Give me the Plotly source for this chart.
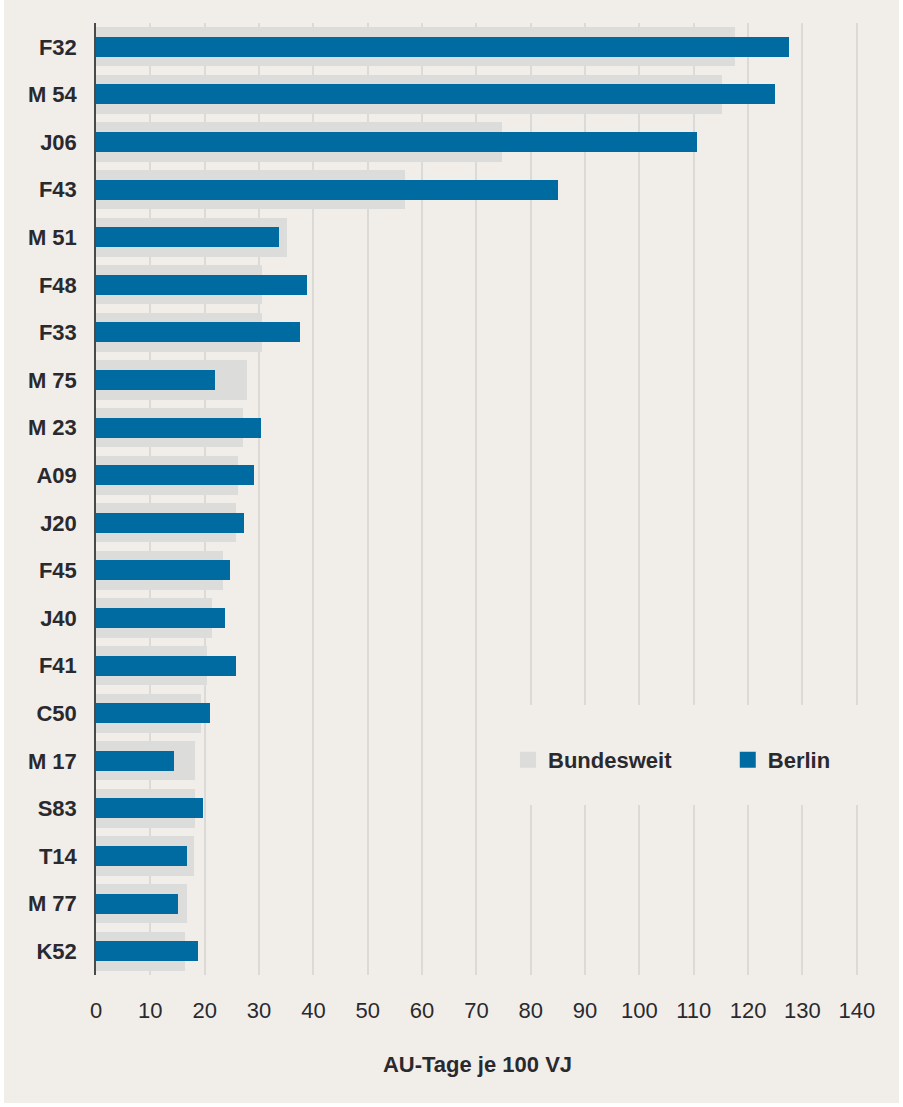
import plotly.graph_objects as go

# ICD-10 diagnoses, ordered by nationwide value (top to bottom)
diagnosen = ["F32", "M54", "J06", "F43", "M51", "F48", "F33", "M75", "M23", "A09",
             "J20", "F45", "J40", "F41", "C50", "M17", "S83", "T14", "M77", "K52"]
diagnosen_label = ["F32", "M 54", "J06", "F43", "M 51", "F48", "F33", "M 75", "M 23", "A09",
                   "J20", "F45", "J40", "F41", "C50", "M 17", "S83", "T14", "M 77", "K52"]

# AU-Tage je 100 Versicherungsjahre
bundesweit = [117.6, 115.2, 74.7, 56.9, 35.2, 30.6, 30.6, 27.7, 27.0, 26.2,
              25.7, 23.3, 21.3, 20.4, 19.3, 18.3, 18.3, 18.0, 16.7, 16.3]
berlin = [127.5, 125.0, 110.6, 85.0, 33.6, 38.9, 37.6, 21.9, 30.3, 29.0,
          27.3, 24.6, 23.7, 25.7, 20.9, 14.3, 19.6, 16.7, 15.0, 18.7]

x_ticks = list(range(0, 141, 10))

BG = "#f1eeea"
GREY = "#dcdcda"
BLUE = "#006ba1"
TEXT = "#2a292e"
FONT = "Liberation Sans, Arial, sans-serif"

fig = go.Figure()
fig.add_trace(go.Bar(
    y=diagnosen, x=bundesweit, orientation="h", name="Bundesweit",
    marker=dict(color=GREY, line=dict(width=0)), width=0.82, showlegend=False,
))
fig.add_trace(go.Bar(
    y=diagnosen, x=berlin, orientation="h", name="Berlin",
    marker=dict(color=BLUE, line=dict(width=0)), width=0.42, showlegend=False,
))
# legend entries with larger square swatches, one legend box each
for name, color, leg in [("Bundesweit", GREY, "legend"), ("Berlin", BLUE, "legend2")]:
    fig.add_trace(go.Scatter(
        x=[None], y=[None], mode="markers", name=name, legend=leg,
        marker=dict(symbol="square", size=16, color=color, line=dict(width=0)),
        hoverinfo="skip",
    ))

legend_style = dict(
    orientation="h",
    y=0.226, yanchor="middle",
    bgcolor="rgba(0,0,0,0)",
    font=dict(size=22, family=FONT, color=TEXT, weight="bold"),
    itemwidth=30,
)

fig.update_layout(
    width=903, height=1107,
    margin=dict(l=96, r=44, t=23, b=132),
    paper_bgcolor="white",
    plot_bgcolor="rgba(0,0,0,0)",
    barmode="overlay",
    bargap=0,
    font=dict(family=FONT, color=TEXT),
    showlegend=True,
    legend=dict(x=0.54, xanchor="left", **legend_style),
    legend2=dict(x=0.828, xanchor="left", **legend_style),
    shapes=[
        # beige panel inside the white frame
        dict(type="rect", xref="paper", yref="paper",
             x0=-0.1206, x1=1.0524, y0=-0.1345, y1=1.0252,
             fillcolor=BG, line=dict(width=0), layer="below"),
        # clear band behind the legend
        dict(type="rect", xref="x", yref="paper",
             x0=76, x1=141, y0=0.1786, y1=0.2836,
             fillcolor=BG, line=dict(width=0), layer="above"),
    ],
)

fig.update_xaxes(
    range=[0, 140.4],
    tickvals=x_ticks,
    ticktext=[str(v) for v in x_ticks],
    showgrid=True, gridcolor="#dcdad6", gridwidth=2,
    zeroline=False, showline=False,
    ticks="", ticklabelstandoff=20,
    tickfont=dict(size=22, family=FONT, color=TEXT),
    title=dict(text="AU-Tage je 100 VJ", standoff=34,
               font=dict(size=22, family=FONT, color=TEXT, weight="bold")),
)

fig.update_yaxes(
    categoryorder="array", categoryarray=diagnosen,
    tickvals=diagnosen, ticktext=diagnosen_label,
    autorange="reversed",
    showgrid=False, zeroline=False,
    showline=True, linecolor="#4a4a4a", linewidth=1.5,
    ticks="", ticklabelstandoff=13,
    tickfont=dict(size=22, family=FONT, color=TEXT, weight="bold"),
)

fig.write_html("out.html")
